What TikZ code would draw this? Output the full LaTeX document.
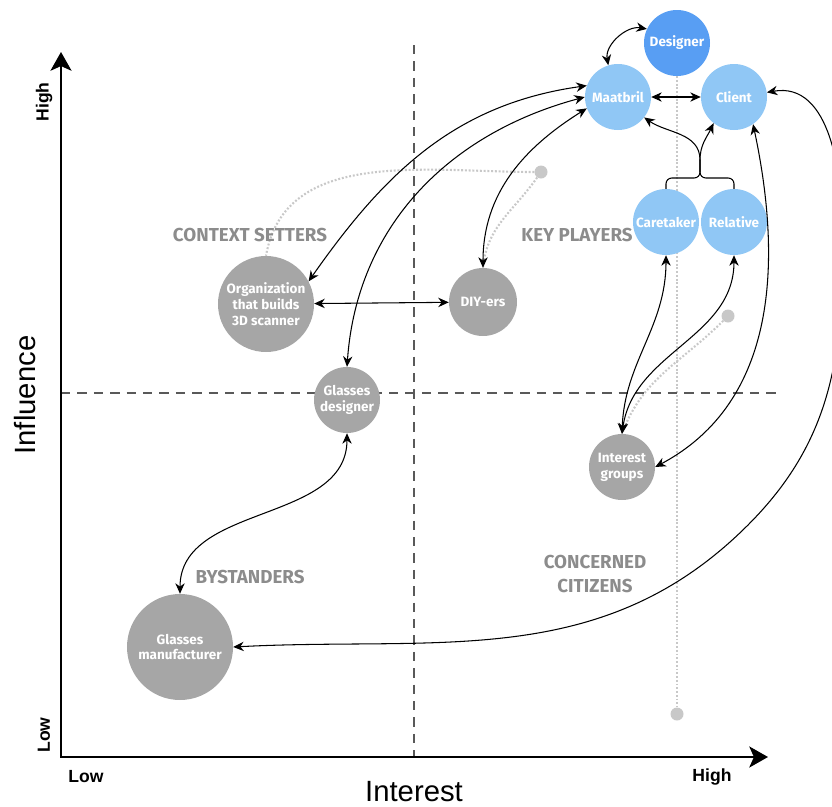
\documentclass[tikz,border=0pt]{standalone}
\usepackage{fontspec}
\setmainfont{Fira Sans}
\newfontfamily\axisfont{Liberation Sans}
\usepackage{tikz}
\usetikzlibrary{positioning,arrows.meta}
\usepackage{xcolor}
\definecolor{keyblue}{RGB}{144,199,245}
\definecolor{leadblue}{RGB}{88,158,243}
\definecolor{stakegray}{RGB}{166,166,166}
\definecolor{quadgray}{RGB}{140,140,140}
\definecolor{trailgray}{RGB}{200,200,200}
\pgfdeclarelayer{bg}
\pgfsetlayers{bg,main}

\begin{document}
\begin{tikzpicture}[x=0.03cm,y=0.03cm,>=Stealth,
  actor/.style={circle, fill=#1, text=white, align=center, inner sep=0pt,
    minimum size=1.98cm, font=\bfseries\fontsize{11.5}{13.5}\selectfont},
  link/.style={<->, line width=0.9pt, >={Stealth[length=9pt,width=8pt]}},
  wire/.style={line width=0.9pt, >={Stealth[length=9pt,width=8pt]}},
  trail/.style={trailgray, line width=1.8pt, dash pattern=on 1.6pt off 1.6pt},
  pin/.style={circle, fill=trailgray, inner sep=0pt, minimum size=0.39cm},
  quad/.style={black!65, line width=1pt, dash pattern=on 8pt off 6pt},
  quadlabel/.style={text=quadgray, align=center, font=\bfseries\fontsize{16}{20}\selectfont},
  axislabel/.style={font=\axisfont\bfseries\fontsize{15}{18}\selectfont},
  axistitle/.style={font=\axisfont\fontsize{25}{30}\selectfont}]

\useasboundingbox (0,0) rectangle (832,-807);

% quadrant split
\draw[quad] (414,-45) -- (414,-757);
\draw[quad] (61,-393) -- (780,-393);

% axes
\draw[line width=1.9pt, {Stealth[length=16pt,width=18pt,inset=4pt]}-{Stealth[length=16pt,width=18pt,inset=4pt]}]
  (61,-52) -- (61,-757) -- (768,-757);
\node[axislabel, rotate=90] (yhigh) at (44,-102) {High};
\node[axislabel, rotate=90] (ylow) at (44,-735) {Low};
\node[axislabel] (xlow) at (86,-777) {Low};
\node[axislabel] (xhigh) at (712,-777) {High};
\node[axistitle] (xtitle) at (414,-792) {Interest};
\node[axistitle, rotate=90] (ytitle) at (25,-395) {Influence};

\node[quadlabel] (setters) at (250,-235) {CONTEXT SETTERS};
\node[quadlabel] (players) at (577,-235) {KEY PLAYERS};
\node[quadlabel] (standers) at (250,-577) {BYSTANDERS};
\node[quadlabel] (citizens) at (595,-574) {CONCERNED\\CITIZENS};

% stakeholders
\node[actor=leadblue] (designer) at (677,-43) {Designer};
\node[actor=keyblue] (maatbril) at (618,-97) {Maatbril};
\node[actor=keyblue] (client) at (734,-97) {Client};
\node[actor=keyblue] (caretaker) at (666,-222) {Caretaker};
\node[actor=keyblue] (relative) at (734,-222) {Relative};
\node[actor=stakegray, minimum size=2.88cm] (scanorg) at (266,-304) {Organization\\that builds\\3D scanner};
\node[actor=stakegray, minimum size=2.04cm] (diyers) at (483,-302) {DIY-ers};
\node[actor=stakegray] (gdesigner) at (347,-400) {Glasses\\designer};
\node[actor=stakegray] (igroups) at (622,-467) {Interest\\groups};
\node[actor=stakegray, minimum size=3.18cm] (gmaker) at (180,-647) {Glasses\\manufacturer};

\node[pin] (pinA) at (541,-172) {};
\node[pin] (pinB) at (728,-316) {};
\node[pin] (pinC) at (677,-714) {};

\begin{pgfonlayer}{bg}
  \draw[trail] (pinA) to[out=180,in=80] (scanorg.north);
  \draw[trail] (pinA) to[out=-125,in=85] (diyers.north);
  \draw[trail] (pinB) to[out=-135,in=70] (igroups.north);
  \draw[trail] (designer.south) -- (pinC);
\end{pgfonlayer}

% relations
\draw[link] (maatbril.107) to[out=100,in=170] (designer.155);
\draw[link] (maatbril) -- (client);

\coordinate (fork) at (700,-160);
\coordinate (bar) at (700,-178);
\draw[wire, rounded corners=5pt] (caretaker.north) |- (bar) -- (fork);
\draw[wire, rounded corners=5pt] (relative.north) |- (bar) -- (fork);
\draw[wire, ->] (fork) to[out=90,in=-35] (maatbril.-38);
\draw[wire, ->] (fork) to[out=90,in=-115] (client.-128);

\draw[link] (maatbril.160) to[out=188,in=55] (scanorg.28);
\draw[link] (maatbril.180) to[out=195,in=86] (gdesigner.north);
\draw[link] (maatbril.200) to[out=212,in=90] (diyers.north);
\draw[link] (scanorg) -- (diyers);
\draw[link] (gdesigner.south) to[out=-90,in=90] (gmaker.north);

\draw[link] (igroups.north) to[out=88,in=-90] (caretaker.south);
\draw[link] (igroups.north) to[out=82,in=-90] (relative.south);
\draw[link] (client.-55) to[out=-78,in=28] (igroups.east);

\coordinate (rim) at (843,-240);
\coordinate (bend) at (748,-525);
\draw[link] (client.8) to[out=10,in=90] (rim) to[out=-90,in=45] (bend)
  to[out=225,in=3] (gmaker.east);

\end{tikzpicture}
\end{document}
